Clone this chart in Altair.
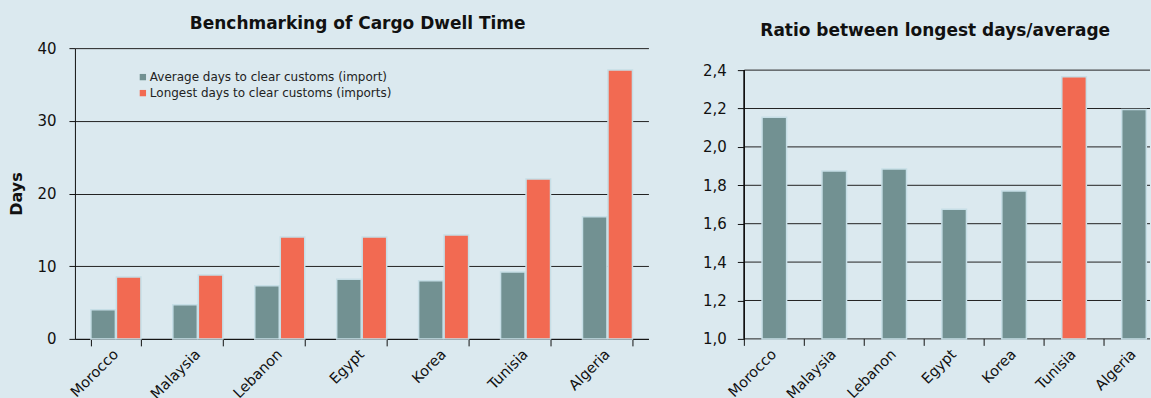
import altair as alt
import pandas as pd

# Source values
countries = ["Morocco", "Malaysia", "Lebanon", "Egypt", "Korea", "Tunisia", "Algeria"]
avg_days = [4.0, 4.7, 7.3, 8.2, 8.0, 9.2, 16.8]
longest_days = [8.5, 8.8, 14.0, 14.0, 14.3, 22.0, 37.0]
ratio_values = [2.155, 1.875, 1.885, 1.675, 1.77, 2.365, 2.195]
series_names = [
    "Average days to clear customs (import)",
    "Longest days to clear customs (imports)",
]
highlight_country = "Tunisia"
ratio_ticks = [1.0, 1.2, 1.4, 1.6, 1.8, 2.0, 2.2, 2.4]

# Styling
BG = "#dbe9ef"
TEAL = "#729192"
ORANGE = "#f26a52"
BAR_EDGE = "#c6dee6"
FONT = "DejaVu Sans"
INK = "#111"
GRID = "#222"

days_df = pd.DataFrame(
    [{"country": c, "series": series_names[0], "days": a} for c, a in zip(countries, avg_days)]
    + [{"country": c, "series": series_names[1], "days": l} for c, l in zip(countries, longest_days)]
)
ratio_df = pd.DataFrame({"country": countries, "ratio": ratio_values})
ratio_grid_df = pd.DataFrame({"level": ratio_ticks})

x_label_style = dict(
    title=None,
    labelAngle=-45,
    labelAlign="right",
    labelBaseline="middle",
    labelFontSize=14.5,
    grid=False,
)

# ---------------- left panel: dwell days ----------------
dwell = (
    alt.Chart(days_df)
    .mark_bar(stroke=BAR_EDGE, strokeWidth=1.5)
    .encode(
        x=alt.X(
            "country:N",
            sort=countries,
            scale=alt.Scale(paddingInner=0.39, paddingOuter=0.195),
            axis=alt.Axis(tickBand="extent", tickSize=7, labelPadding=6, **x_label_style),
        ),
        xOffset=alt.XOffset("series:N", sort=series_names, scale=alt.Scale(paddingInner=0.04)),
        y=alt.Y(
            "days:Q",
            scale=alt.Scale(domain=[0, 40]),
            axis=alt.Axis(
                values=[0, 10, 20, 30, 40],
                title="Days",
                titleFontSize=16,
                titleFontWeight="bold",
                titlePadding=12,
                labelFontSize=15,
                labelPadding=13,
                tickSize=6,
                grid=True,
            ),
        ),
        color=alt.Color(
            "series:N",
            sort=series_names,
            scale=alt.Scale(domain=series_names, range=[TEAL, ORANGE]),
            legend=alt.Legend(
                title=None,
                orient="none",
                legendX=62,
                legendY=23,
                symbolType="square",
                symbolSize=40,
                symbolStrokeWidth=0,
                labelFontSize=12,
                labelLimit=0,
                labelOffset=1,
                rowPadding=4,
            ),
        ),
    )
    .properties(
        width=574,
        height=291,
        title=alt.Title("Benchmarking of Cargo Dwell Time", offset=8, dx=-4),
    )
)

# ---------------- right panel: longest / average ----------------
# 60px per country; the panel is cut at its right border, so the last column's
# trailing space is not shown. The outer padding is pushed to the left via `align`.
RATIO_STEP = 60
RATIO_VISIBLE_W = 406
RATIO_H = 291
RATIO_PAD_INNER = 0.59
n_cat = len(countries)
outer_total = RATIO_VISIBLE_W / RATIO_STEP - n_cat + RATIO_PAD_INNER  # in steps
ratio_pad_outer = outer_total / 2
ratio_align = (RATIO_PAD_INNER / 2) / outer_total
# 2,4 sits 22px below the panel top, with 1,0 at the bottom
ratio_top = 2.4 + 22 * (2.4 - 1.0) / (RATIO_H - 22)

ratio_x_scale = alt.Scale(
    paddingInner=RATIO_PAD_INNER,
    paddingOuter=ratio_pad_outer,
    align=ratio_align,
)
ratio_y_scale = alt.Scale(domain=[1.0, ratio_top], zero=False, nice=False)

# horizontal gridlines across the panel
ratio_grid = (
    alt.Chart(ratio_grid_df)
    .mark_rule(color=GRID, strokeWidth=1)
    .encode(
        y=alt.Y("level:Q", scale=ratio_y_scale),
        x=alt.value(0),
        x2=alt.value(RATIO_VISIBLE_W),
    )
)

ratio_bars = (
    alt.Chart(ratio_df)
    .mark_bar(stroke=BAR_EDGE, strokeWidth=1.5)
    .encode(
        x=alt.X(
            "country:N",
            sort=countries,
            scale=ratio_x_scale,
            axis=alt.Axis(ticks=False, domain=False, labelPadding=13, **x_label_style),
        ),
        y=alt.Y(
            "ratio:Q",
            scale=ratio_y_scale,
            axis=alt.Axis(
                values=ratio_ticks,
                labelExpr="replace(format(datum.value, '.1f'), '.', ',')",
                title=None,
                labelFontSize=15,
                labelPadding=11,
                tickSize=7,
                grid=False,
                domain=False,
            ),
        ),
        y2=alt.datum(1.0),
        color=alt.condition(
            alt.datum.country == highlight_country, alt.value(ORANGE), alt.value(TEAL)
        ),
    )
)

# category boundary ticks below the baseline (half a step left of each centre)
ratio_ticks_marks = (
    alt.Chart(ratio_df)
    .mark_rule(color=INK, strokeWidth=1, xOffset=-RATIO_STEP / 2)
    .encode(
        x=alt.X("country:N", sort=countries),
        y=alt.value(RATIO_H),
        y2=alt.value(RATIO_H + 7),
    )
)

# vertical axis line spanning 1,0 to 2,4
ratio_axis_line = (
    alt.Chart(ratio_df)
    .mark_rule(color=INK, strokeWidth=1)
    .encode(x=alt.value(0), y=alt.datum(ratio_ticks[0]), y2=alt.datum(ratio_ticks[-1]))
)

ratio = (
    alt.layer(ratio_grid, ratio_bars, ratio_ticks_marks, ratio_axis_line)
    .properties(
        width=RATIO_VISIBLE_W,
        height=RATIO_H,
        title=alt.Title("Ratio between longest days/average", offset=8, dx=-12),
    )
)

chart = (
    alt.hconcat(dwell, ratio, spacing=54)
    .properties(background=BG, padding={"left": 8, "top": 15, "right": 0, "bottom": 0})
    .configure(font=FONT)
    .configure_view(stroke=None)
    .configure_axis(
        labelFont=FONT,
        titleFont=FONT,
        labelColor=INK,
        titleColor=INK,
        domainColor=INK,
        tickColor=INK,
        gridColor=GRID,
        gridWidth=1,
    )
    .configure_title(font=FONT, fontSize=17, fontWeight="bold", color=INK, anchor="middle")
    .configure_legend(labelFont=FONT, labelColor="#222")
)

chart.save("out.html", embed_options={"renderer": "svg", "actions": False})
